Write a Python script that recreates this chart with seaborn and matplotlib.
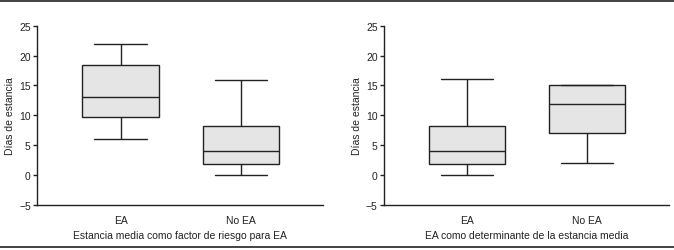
import numpy as np
import pandas as pd
import matplotlib
matplotlib.use("Agg")
import matplotlib.pyplot as plt
import seaborn as sns
from matplotlib.lines import Line2D

####figure settings####
sns.set_style("ticks")
plt.rcParams["font.family"] = ["Liberation Sans", "DejaVu Sans"]
plt.rcParams["font.size"] = 7.5
plt.rcParams["axes.linewidth"] = 1.0
plt.rcParams["text.color"] = "#222222"
plt.rcParams["axes.labelcolor"] = "#222222"
plt.rcParams["xtick.color"] = "#222222"
plt.rcParams["ytick.color"] = "#222222"

# five-number summaries: min, Q1, median, Q3, max
categories = ["EA", "No EA"]
left_ea = [6, 9.7, 13, 18.5, 22]
left_noea = [0, 1.9, 4, 8.2, 15.9]
right_ea = [0, 1.8, 4, 8.2, 16]
right_noea = [2, 7, 11.85, 15, 15]

yticks = [-5, 0, 5, 10, 15, 20, 25]
ylabel = "Días de estancia"
left_title = "Estancia media como factor de riesgo para EA"
right_title = "EA como determinante de la estancia media"

ink = "#222222"
fill = "#e5e5e5"


def make_df(a, b):
    return pd.DataFrame({"grupo": [categories[0]] * len(a) + [categories[1]] * len(b),
                         "dias": a + b})


def plot_box(ax, df, xlabel):
    sns.boxplot(data=df, x="grupo", y="dias", order=categories, whis=(0, 100),
                width=0.633, color=fill, saturation=1, linecolor=ink, linewidth=1.0,
                showfliers=False, ax=ax)
    for ln in ax.lines:
        ln.set_color(ink)
    for p in ax.patches:
        p.set_facecolor(fill)
        p.set_edgecolor(ink)
    # caps a bit wider than seaborn default
    for ln in ax.lines:
        x = ln.get_xdata()
        y = ln.get_ydata()
        if len(x) == 2 and y[0] == y[1] and x[0] != x[1]:
            c = (x[0] + x[1]) / 2
            half = abs(x[1] - x[0]) / 2
            if half < 0.3:
                ln.set_xdata([c - 0.217, c + 0.217])
    ax.set_xlim(-0.695, 1.685)
    ax.set_ylim(-5, 25)
    ax.set_yticks(yticks)
    ax.set_yticklabels([str(t).replace("-", "\u2212") for t in yticks])
    ax.spines["right"].set_visible(False)
    ax.spines["top"].set_visible(False)
    ax.spines["left"].set_color(ink)
    ax.spines["bottom"].set_color(ink)
    ax.tick_params(axis="y", length=3, width=1.0, pad=1.5)
    ax.tick_params(axis="x", length=0, pad=7)
    ax.set_ylabel(ylabel, labelpad=3)
    ax.set_xlabel(xlabel, labelpad=4)


fig = plt.figure(figsize=(6.74, 2.51), dpi=100)
ax1 = fig.add_axes([37 / 674, 1 - 206 / 251, 286 / 674, 179.3 / 251])
ax2 = fig.add_axes([384 / 674, 1 - 206 / 251, 285 / 674, 179.3 / 251])

plot_box(ax1, make_df(left_ea, left_noea), left_title)
plot_box(ax2, make_df(right_ea, right_noea), right_title)

# rules above and below the panels
fig.add_artist(Line2D([0, 1], [1 - 1.5 / 251] * 2, color=ink, lw=1.2))
fig.add_artist(Line2D([0, 1], [1 - 247.5 / 251] * 2, color=ink, lw=1.2))

fig.savefig("out.png", dpi=100)
